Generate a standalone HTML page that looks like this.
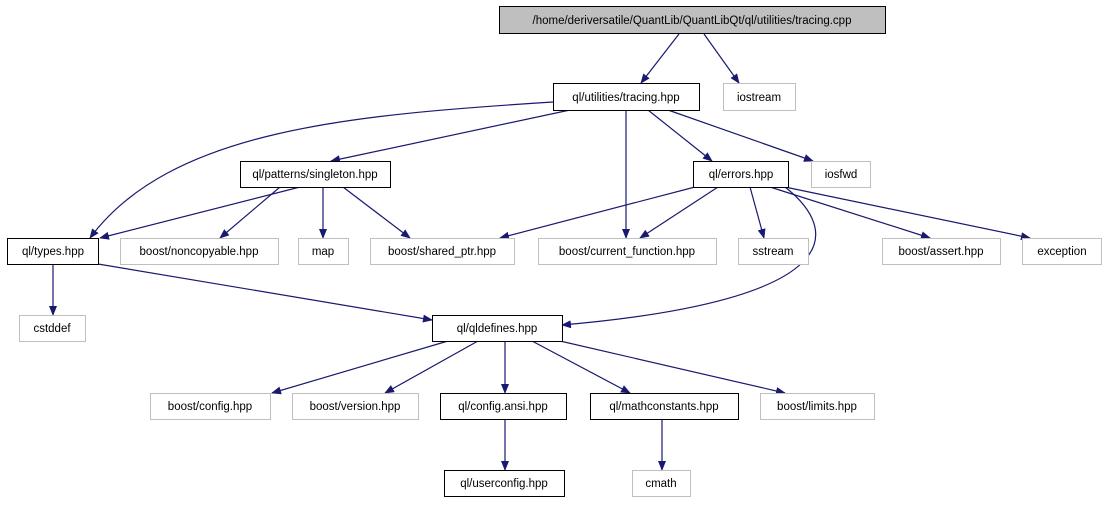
<!DOCTYPE html>
<html><head><meta charset="utf-8"><style>
body{margin:0;background:#fff;width:1107px;height:504px;overflow:hidden}
svg text{font-family:"Liberation Sans",Helvetica,sans-serif;font-size:11.5px;text-anchor:middle}
</style></head><body>
<svg width="1107" height="504" viewBox="0 0 1107 504" xmlns="http://www.w3.org/2000/svg">
<defs><marker id="a" markerWidth="10" markerHeight="8" refX="9" refY="4" orient="auto" markerUnits="userSpaceOnUse"><path d="M0,0 L10,4 L0,8 z" fill="#191970"/></marker></defs>
<g fill="none" stroke="#191970" stroke-width="1.2" marker-end="url(#a)">
<path d="M679,34 L641,83"/>
<path d="M704,34 L739,83"/>
<path d="M553,102 C350,115 170,130 90,238"/>
<path d="M570,110 L331,161"/>
<path d="M626,110 L626,238"/>
<path d="M648,110 L712,161"/>
<path d="M668,110 L813,161"/>
<path d="M300,187 L100,238"/>
<path d="M280,187 L220,238"/>
<path d="M323,187 L323,238"/>
<path d="M343,187 L410,238"/>
<path d="M695,187 L500,238"/>
<path d="M718,187 L640,238"/>
<path d="M750,187 L764,238"/>
<path d="M770,187 L930,238"/>
<path d="M785,187 L1030,238"/>
<path d="M785,187 C840,230 850,300 562,325"/>
<path d="M53,264 L53,315"/>
<path d="M98,264 L432,320"/>
<path d="M448,341 L272,393"/>
<path d="M478,341 L385,393"/>
<path d="M505,341 L505,393"/>
<path d="M532,341 L630,393"/>
<path d="M560,341 L785,393"/>
<path d="M505,419 L505,470"/>
<path d="M662,419 L662,470"/>
</g>
<g stroke-width="1">
<rect x="499.5" y="6.5" width="386" height="27" fill="#bfbfbf" stroke="#000"/>
<rect x="553.5" y="83.5" width="146" height="27" fill="#fff" stroke="#000"/>
<rect x="723.5" y="83.5" width="72" height="27" fill="#fff" stroke="#bfbfbf"/>
<rect x="240.5" y="161.5" width="150" height="26" fill="#fff" stroke="#000"/>
<rect x="693.5" y="161.5" width="95" height="26" fill="#fff" stroke="#000"/>
<rect x="811.5" y="161.5" width="59" height="26" fill="#fff" stroke="#bfbfbf"/>
<rect x="7.5" y="238.5" width="91" height="26" fill="#fff" stroke="#000"/>
<rect x="120.5" y="238.5" width="158" height="26" fill="#fff" stroke="#bfbfbf"/>
<rect x="298.5" y="238.5" width="50" height="26" fill="#fff" stroke="#bfbfbf"/>
<rect x="370.5" y="238.5" width="144" height="26" fill="#fff" stroke="#bfbfbf"/>
<rect x="538.5" y="238.5" width="178" height="26" fill="#fff" stroke="#bfbfbf"/>
<rect x="738.5" y="238.5" width="70" height="26" fill="#fff" stroke="#bfbfbf"/>
<rect x="882.5" y="238.5" width="118" height="26" fill="#fff" stroke="#bfbfbf"/>
<rect x="1022.5" y="238.5" width="79" height="26" fill="#fff" stroke="#bfbfbf"/>
<rect x="19.5" y="315.5" width="66" height="26" fill="#fff" stroke="#bfbfbf"/>
<rect x="432.5" y="315.5" width="130" height="26" fill="#fff" stroke="#000"/>
<rect x="150.5" y="393.5" width="120" height="26" fill="#fff" stroke="#bfbfbf"/>
<rect x="292.5" y="393.5" width="126" height="26" fill="#fff" stroke="#bfbfbf"/>
<rect x="440.5" y="393.5" width="126" height="26" fill="#fff" stroke="#000"/>
<rect x="590.5" y="393.5" width="148" height="26" fill="#fff" stroke="#000"/>
<rect x="760.5" y="393.5" width="114" height="26" fill="#fff" stroke="#bfbfbf"/>
<rect x="444.5" y="470.5" width="120" height="26" fill="#fff" stroke="#000"/>
<rect x="632.5" y="470.5" width="58" height="26" fill="#fff" stroke="#bfbfbf"/>
</g>
<g fill="#000">
<text x="692" y="24">/home/deriversatile/QuantLib/QuantLibQt/ql/utilities/tracing.cpp</text>
<text x="626" y="101">ql/utilities/tracing.hpp</text>
<text x="759" y="101">iostream</text>
<text x="315" y="178">ql/patterns/singleton.hpp</text>
<text x="741" y="178">ql/errors.hpp</text>
<text x="841" y="178">iosfwd</text>
<text x="53" y="255">ql/types.hpp</text>
<text x="199" y="255">boost/noncopyable.hpp</text>
<text x="323" y="255">map</text>
<text x="442" y="255">boost/shared_ptr.hpp</text>
<text x="627" y="255">boost/current_function.hpp</text>
<text x="773" y="255">sstream</text>
<text x="941" y="255">boost/assert.hpp</text>
<text x="1062" y="255">exception</text>
<text x="52" y="332">cstddef</text>
<text x="497" y="332">ql/qldefines.hpp</text>
<text x="210" y="410">boost/config.hpp</text>
<text x="355" y="410">boost/version.hpp</text>
<text x="503" y="410">ql/config.ansi.hpp</text>
<text x="664" y="410">ql/mathconstants.hpp</text>
<text x="817" y="410">boost/limits.hpp</text>
<text x="504" y="487">ql/userconfig.hpp</text>
<text x="661" y="487">cmath</text>
</g>
</svg>
</body></html>
